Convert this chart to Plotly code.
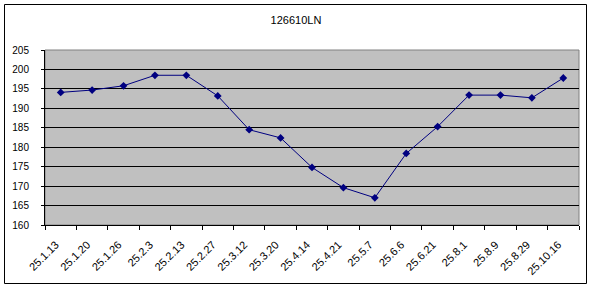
import plotly.graph_objects as go

categories = ["25.1.13", "25.1.20", "25.1.26", "25.2.3", "25.2.13", "25.2.27", "25.3.12",
              "25.3.20", "25.4.14", "25.4.21", "25.5.7", "25.6.6", "25.6.21", "25.8.1",
              "25.8.9", "25.8.29", "25.10.16"]
values = [194.1, 194.7, 195.8, 198.5, 198.5, 193.2, 184.5, 182.4, 174.8, 169.6, 167.0,
          178.4, 185.3, 193.4, 193.4, 192.7, 197.8]
y_ticks = [160, 165, 170, 175, 180, 185, 190, 195, 200, 205]
title_text = "126610LN"

W, H = 592, 288
L, R, T, B = 45, 13, 50, 63
pw, ph = W - L - R, H - T - B

def px_to_paper_x(px):
    return (px - L) / pw

def px_to_paper_y(py):
    return 1 - (py - T) / ph

fig = go.Figure()
fig.add_trace(go.Scatter(
    x=categories, y=values, mode="lines+markers",
    line=dict(color="#000080", width=1),
    marker=dict(symbol="diamond", size=6, color="#000080"),
    showlegend=False,
))

font = dict(family="Liberation Sans, Arial, sans-serif", size=10, color="black")
xfont = dict(family="Liberation Sans, Arial, sans-serif", size=11, color="black")

fig.update_layout(
    width=W, height=H,
    margin=dict(l=L, r=R, t=T, b=B, pad=0),
    paper_bgcolor="white",
    plot_bgcolor="#C0C0C0",
    font=font,
    title=dict(text=title_text, x=296 / W, xanchor="center",
               y=1 - 20 / H, yanchor="middle",
               font=dict(family="Liberation Sans, Arial, sans-serif", size=11, color="black")),
    xaxis=dict(
        type="category", tickangle=-45, ticks="outside", ticklen=4, tickcolor="black",
        tickson="boundaries", showgrid=False, showline=True, linecolor="black", linewidth=1,
        tickfont=xfont, range=[-0.5, len(categories) - 0.5], zeroline=False,
        ticklabelstandoff=8, ticklabelshift=-5,
    ),
    yaxis=dict(
        range=[160, 205], tickvals=y_ticks, ticks="outside", ticklen=3, tickcolor="black",
        showgrid=True, gridcolor="black", gridwidth=1, showline=True, linecolor="black",
        linewidth=1, tickfont=font, zeroline=False, ticklabelstandoff=10,
    ),
    shapes=[
        dict(type="rect", xref="paper", yref="paper", x0=0, x1=1, y0=0, y1=1,
             line=dict(color="#808080", width=1), fillcolor="rgba(0,0,0,0)", layer="below"),
        dict(type="rect", xref="paper", yref="paper",
             x0=px_to_paper_x(4.5), x1=px_to_paper_x(586.5),
             y0=px_to_paper_y(283.5), y1=px_to_paper_y(4.5),
             line=dict(color="black", width=1), fillcolor="rgba(0,0,0,0)"),
    ],
)

fig.write_html("out.html")
